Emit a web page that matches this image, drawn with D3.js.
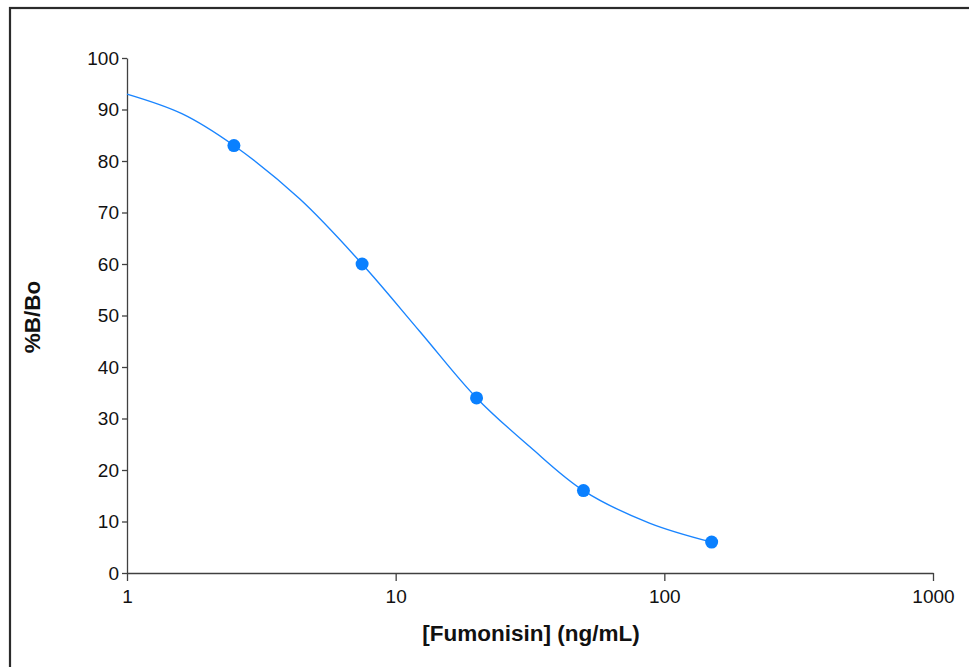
<!DOCTYPE html>
<html>
<head>
<meta charset="utf-8">
<script src="https://cdn.jsdelivr.net/npm/d3@7"></script>
<style>
  body { margin: 0; background: #fff; }
  svg { display: block; font-family: "Liberation Sans", Arial, sans-serif; }
</style>
</head>
<body>
<div id="chart"></div>
<script>
// measured standards (concentration ng/mL, %B/Bo)
const concs = [2.5, 7.5, 20, 50, 150];
const bbo = [83, 60, 34, 16, 6];

// fitted curve
const fitConc = [1, 1.6, 2.5, 4.4, 7.5, 12.3, 20, 31.6, 50, 88, 150];
const fitBbo = [93, 89.2, 83, 72.6, 60, 46.9, 34, 24.5, 16, 9.7, 6];

const xTicks = [1, 10, 100, 1000];
const yTicks = d3.range(0, 101, 10);

const width = 969, height = 667;
const svg = d3.select("#chart").append("svg")
    .attr("width", width)
    .attr("height", height);

// outer frame
svg.append("rect")
    .attr("x", 10).attr("y", 8)
    .attr("width", 1000).attr("height", 700)
    .attr("fill", "none")
    .attr("stroke", "#2b2b2b")
    .attr("stroke-width", 2.2);

const x = d3.scaleLog().domain([1, 1000]).range([127, 933]);
const y = d3.scaleLinear().domain([0, 100]).range([573, 58]);

const xAxis = svg.append("g")
    .attr("transform", `translate(0,${y(0)})`)
    .call(d3.axisBottom(x).tickValues(xTicks).tickFormat(d3.format("d"))
        .tickSize(8).tickSizeOuter(0).tickPadding(9));

const yAxis = svg.append("g")
    .attr("transform", `translate(${x(1)},0)`)
    .call(d3.axisLeft(y).tickValues(yTicks)
        .tickSize(5).tickSizeOuter(0).tickPadding(3));

[xAxis, yAxis].forEach(g => {
    g.selectAll("path, line").attr("stroke", "#404040").attr("stroke-width", 1.3);
    g.selectAll("text").attr("fill", "#111").style("font-size", "19px")
        .style("font-family", "'Liberation Sans', Arial, sans-serif");
});

// fit line
const line = d3.line()
    .x(d => x(d[0]))
    .y(d => y(d[1]))
    .curve(d3.curveCatmullRom.alpha(0.5));

svg.append("path")
    .datum(fitConc.map((c, i) => [c, fitBbo[i]]))
    .attr("d", line)
    .attr("fill", "none")
    .attr("stroke", "#1a85ff")
    .attr("stroke-width", 1.4);

svg.selectAll("circle.pt")
    .data(concs.map((c, i) => [c, bbo[i]]))
    .join("circle")
    .attr("class", "pt")
    .attr("cx", d => x(d[0]))
    .attr("cy", d => y(d[1]))
    .attr("r", 6.5)
    .attr("fill", "#0a80ff");

// axis titles
svg.append("text")
    .attr("x", 531).attr("y", 641)
    .attr("text-anchor", "middle")
    .style("font-size", "22.5px").style("font-weight", "bold")
    .attr("fill", "#111")
    .text("[Fumonisin] (ng/mL)");

svg.append("text")
    .attr("transform", "translate(40,317) rotate(-90)")
    .attr("text-anchor", "middle")
    .style("font-size", "22.5px").style("font-weight", "bold")
    .attr("fill", "#111")
    .text("%B/Bo");
</script>
</body>
</html>
